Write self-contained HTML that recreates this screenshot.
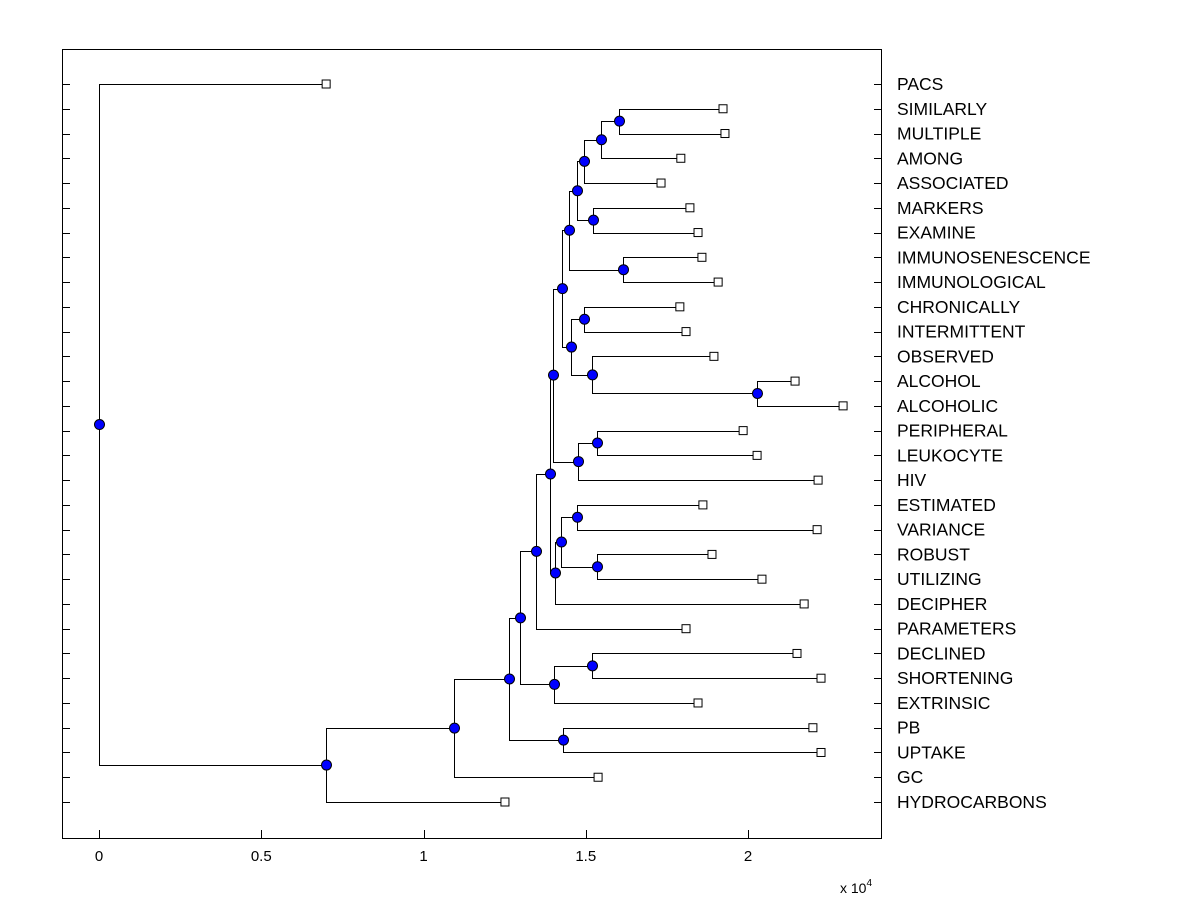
<!DOCTYPE html>
<html><head><meta charset="utf-8"><style>
body{margin:0;background:#fff;}
svg text{font-family:"Liberation Sans",Arial,sans-serif;}
</style></head><body>
<svg id="chart" width="1200" height="900" xmlns="http://www.w3.org/2000/svg">
<rect x="0" y="0" width="1200" height="900" fill="#fff"/>
<rect x="62.5" y="49.5" width="819" height="789" fill="none" stroke="#000" stroke-width="1"/>
<g id="ticks"></g><g id="links"></g><g id="marks"></g><g id="labels"></g>
<text x="840" y="893" font-size="14">x 10<tspan dy="-7" font-size="10">4</tspan></text>
</svg>
<script>
const leaves = ["PACS","SIMILARLY","MULTIPLE","AMONG","ASSOCIATED","MARKERS","EXAMINE","IMMUNOSENESCENCE","IMMUNOLOGICAL","CHRONICALLY","INTERMITTENT","OBSERVED","ALCOHOL","ALCOHOLIC","PERIPHERAL","LEUKOCYTE","HIV","ESTIMATED","VARIANCE","ROBUST","UTILIZING","DECIPHER","PARAMETERS","DECLINED","SHORTENING","EXTRINSIC","PB","UPTAKE","GC","HYDROCARBONS"];
const leafHeights = [0.70,1.923,1.929,1.793,1.732,1.821,1.846,1.858,1.908,1.790,1.809,1.895,2.145,2.293,1.985,2.028,2.216,1.861,2.213,1.889,2.043,2.173,1.809,2.151,2.225,1.846,2.200,2.225,1.538,1.251];
const nodes = [
 ["L1","L2",1.602],["N0","L3",1.547],["N1","L4",1.495],["L5","L6",1.522],["N2","N3",1.473],
 ["L7","L8",1.615],["N4","N5",1.448],["L9","L10",1.495],["L12","L13",2.028],["L11","N8",1.519],
 ["N7","N9",1.455],["N6","N10",1.427],["L14","L15",1.535],["N12","L16",1.476],["N11","N13",1.399],
 ["L17","L18",1.473],["L19","L20",1.535],["N15","N16",1.424],["N17","L21",1.405],["N14","N18",1.390],
 ["N19","L22",1.347],["L23","L24",1.519],["N21","L25",1.402],["N20","N22",1.297],["L26","L27",1.430],
 ["N23","N24",1.264],["N25","L28",1.094],["N26","L29",0.70],["L0","N27",0.0]
];
const xTicks = [0,0.5,1,1.5,2];
const xTickLabels = ["0","0.5","1","1.5","2"];

const NS="http://www.w3.org/2000/svg";
const X0=99, XS=324.5;
const sx=v=>X0+v*XS;
const sy=i=>84+i*(802-84)/29;
function mk(tag,attrs,parent){const e=document.createElementNS(NS,tag);for(const k in attrs)e.setAttribute(k,attrs[k]);parent.appendChild(e);return e;}
const gT=document.getElementById('ticks'),gL=document.getElementById('links'),gM=document.getElementById('marks'),gX=document.getElementById('labels');

xTicks.forEach((t,i)=>{
 const x=Math.round(sx(t))+0.5;
 const l=mk('line',{x1:x,x2:x,y1:838,y2:830,stroke:'#000'},gT);
 
 
 const tx=mk('text',{x:sx(t),y:861,'font-size':15,'text-anchor':'middle'},gX);
 tx.textContent=xTickLabels[i];
 
 
});
leaves.forEach((name,i)=>{
 const y=Math.round(sy(i))+0.5;
 const a=mk('line',{x1:62,x2:70,y1:y,y2:y,stroke:'#000'},gT);
 
 
 const b=mk('line',{x1:874,x2:882,y1:y,y2:y,stroke:'#000'},gT);
 
 
 const t=mk('text',{x:897,y:sy(i)+6,'font-size':17.5},gX);
 t.textContent=name;
 
 
});
const pos={};
leaves.forEach((n,i)=>{pos['L'+i]={x:sx(leafHeights[i]),y:sy(i)};});
nodes.forEach((n,j)=>{
 const a=pos[n[0]],b=pos[n[1]],x=sx(n[2]);
 pos['N'+j]={x:x,y:(a.y+b.y)/2};
 const p=mk('path',{d:`M${a.x},${Math.round(a.y)+0.5}H${Math.round(x)+0.5}V${Math.round(b.y)+0.5}H${b.x}`,fill:'none',stroke:'#000','stroke-width':1},gL);
 
 
});
leaves.forEach((n,i)=>{
 const p=pos['L'+i];
 const r=mk('rect',{x:p.x-4,y:p.y-4,width:8,height:8,fill:'#fff',stroke:'#000'},gM);
 
 
});
nodes.forEach((n,j)=>{
 const p=pos['N'+j];
 const c=mk('circle',{cx:Math.round(p.x)+0.5,cy:p.y,r:5,fill:'#0000ff',stroke:'#000'},gM);
 
 
});
</script>
</body></html>
